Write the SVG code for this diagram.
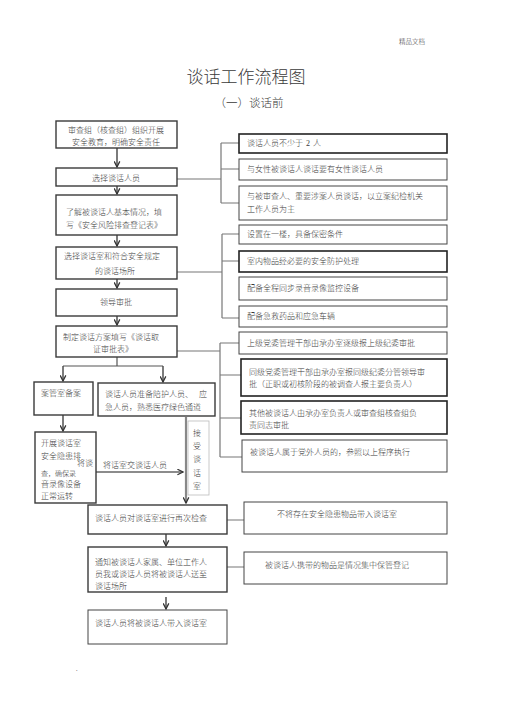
<svg xmlns="http://www.w3.org/2000/svg" width="505" height="714" viewBox="0 0 505 714">
<style>
text{font-family:"Liberation Serif","Noto Sans CJK SC",serif;fill:#3a3a3a;font-size:8px;font-weight:300}
.box{fill:#fff;stroke:#3a3a3a;stroke-width:1.4}
.rbox{fill:#fff;stroke:#444;stroke-width:1}
.rbox2{fill:#fff;stroke:#222;stroke-width:1.6}
.c{fill:none;stroke:#777;stroke-width:1.2}
.a{fill:none;stroke:#444;stroke-width:1.4;marker-end:url(#ah)}
.m{text-anchor:middle}
</style>
<defs>
<marker id="ah" viewBox="0 0 10 10" refX="9" refY="5" markerWidth="7" markerHeight="7" markerUnits="userSpaceOnUse" orient="auto">
<path d="M1,1 L9,5 L1,9" fill="none" stroke="#333" stroke-width="1.8"/>
</marker>
</defs>
<rect width="505" height="714" fill="#fff"/>
<text x="399" y="44" style="font-size:6.5px">精品文档</text>
<text x="246" y="83" class="m" style="font-size:17px">谈话工作流程图</text>
<text x="249" y="107" class="m" style="font-size:11.5px">（一）谈话前</text>

<g id="connectors">
<path class="a" d="M117,148 V167"/>
<path class="a" d="M117,186 V194"/>
<path class="a" d="M117,235 V246"/>
<path class="a" d="M117,279 V288"/>
<path class="a" d="M117,316 V325"/>
<path class="c" d="M117,357 V366 M63,366 H163" style="stroke:#555"/>
<path class="a" d="M63,366 V381"/>
<path class="a" d="M163,366 V382"/>
<path class="a" d="M63,415 V431"/>
<path class="a" d="M96,472 H183" style="stroke:#666"/>
<path class="a" d="M186,417 V503" style="stroke:#888;stroke-width:2.2"/>
<path class="a" d="M166,534 V546"/>
<path class="a" d="M166,597 V609"/>
<path class="c" d="M177,179 H221 M221,143 V203 M221,143 H239 M221,169 H239 M221,203 H239"/>
<path class="c" d="M177,272 H222 M222,234 V318 M222,234 H239 M222,261 H239 M222,318 H239"/>
<path class="c" d="M177,351 H220 M220,343 V457 M220,343 H239 M220,375 H241 M220,418 H241 M220,457 H242"/>
<path class="c" d="M227,520 H244 M227,567 H244"/>
</g>

<g id="n1"><rect class="box" x="56" y="121" width="121" height="27"/>
<text x="116" y="133" class="m">审查组（核查组）组织开展</text>
<text x="116" y="145" class="m">安全教育，明确安全责任</text></g>
<g id="n2"><rect class="box" x="56" y="168" width="121" height="18"/>
<text x="116" y="181" class="m">选择谈话人员</text></g>
<g id="n3"><rect class="box" x="56" y="195" width="121" height="40"/>
<text x="66" y="215">了解被谈话人基本情况，填</text>
<text x="66" y="228">写《安全风险排查登记表》</text></g>
<g id="n4"><rect class="box" x="56" y="247" width="121" height="32"/>
<text x="64" y="259">选择谈话室和符合安全规定</text>
<text x="95" y="274">的谈话场所</text></g>
<g id="n5"><rect class="box" x="56" y="289" width="121" height="27"/>
<text x="116" y="305" class="m">领导审批</text></g>
<g id="n6"><rect class="box" x="56" y="326" width="121" height="31"/>
<text x="63" y="340">制定谈话方案填写《谈话取</text>
<text x="93" y="352">证审批表》</text></g>
<g id="n7"><rect class="box" x="34" y="382" width="59" height="33"/>
<text x="41" y="396">案管室备案</text></g>
<g id="n8"><rect class="box" x="98" y="383" width="117" height="33"/>
<text x="105" y="397">谈话人员准备陪护人员、<tspan x="199">应</tspan></text>
<text x="105" y="410">急人员，熟悉医疗绿色通道</text></g>
<g id="n9"><rect class="box" x="35" y="432" width="61" height="71"/>
<text x="41" y="446">开展谈话室</text>
<text x="41" y="459">安全隐患排</text>
<text x="77" y="466">将谈</text>
<text x="41" y="476" style="font-size:7px">查，确保录</text>
<text x="41" y="487">音录像设备</text>
<text x="41" y="499">正常运转</text></g>
<text x="103" y="468">将话室交谈话人员</text>
<g id="n10"><rect x="188" y="421" width="21" height="74" fill="none" stroke="#bbb" stroke-width="0.8"/>
<text x="197" y="436" class="m">接</text>
<text x="197" y="449" class="m">受</text>
<text x="197" y="462" class="m">谈</text>
<text x="197" y="476" class="m">话</text>
<text x="197" y="489" class="m">室</text></g>
<g id="n11"><rect class="box" x="88" y="505" width="139" height="29"/>
<text x="95" y="521">谈话人员对谈话室进行再次检查</text></g>
<g id="n12"><rect class="box" x="88" y="547" width="139" height="45"/>
<text x="95" y="565">通知被谈话人家属、单位工作人</text>
<text x="95" y="577">员我或谈话人员将被谈话人送至</text>
<text x="95" y="589">谈话场所</text></g>
<g id="n13"><rect class="rbox" x="88" y="610" width="139" height="34"/>
<text x="95" y="626">谈话人员将被谈话人带入谈话室</text></g>
<g id="n14"><rect class="rbox" x="244" y="502" width="203" height="32"/>
<text x="337" y="517" class="m">不将存在安全隐患物品带入谈话室</text></g>
<g id="n15"><rect class="rbox" x="244" y="552" width="203" height="32"/>
<text x="337" y="568" class="m">被谈话人携带的物品是情况集中保管登记</text></g>

<g id="r1"><rect class="rbox2" x="239" y="134" width="208" height="19"/>
<text x="247" y="146">谈话人员不少于<tspan x="306">2</tspan><tspan x="313">人</tspan></text></g>
<g id="r2"><rect class="rbox" x="239" y="159" width="208" height="21"/>
<text x="247" y="172">与女性被谈话人谈话要有女性谈话人员</text></g>
<g id="r3"><rect class="rbox" x="239" y="186" width="208" height="34"/>
<text x="247" y="199">与被审查人、重要涉案人员谈话，以立案纪检机关</text>
<text x="247" y="212">工作人员为主</text></g>
<g id="r4"><rect class="rbox" x="239" y="225" width="208" height="19"/>
<text x="247" y="237">设置在一楼，具备保密条件</text></g>
<g id="r5"><rect class="rbox2" x="239" y="251" width="208" height="21"/>
<text x="247" y="264">室内物品经必要的安全防护处理</text></g>
<g id="r6"><rect class="rbox" x="239" y="277" width="208" height="23"/>
<text x="247" y="291">配备全程同步录音录像监控设备</text></g>
<g id="r7"><rect class="rbox" x="239" y="306" width="208" height="21"/>
<text x="247" y="319">配备急救药品和应急车辆</text></g>
<g id="r8"><rect class="rbox" x="239" y="332" width="208" height="22"/>
<text x="247" y="346">上级党委管理干部由承办室逐级报上级纪委审批</text></g>
<g id="r9"><rect class="rbox2" x="241" y="359" width="206" height="37"/>
<text x="249" y="375">同级党委管理干部由承办室报同级纪委分管领导审</text>
<text x="249" y="387">批（正职或初核阶段的被调查人报主要负责人）</text></g>
<g id="r10"><rect class="rbox2" x="241" y="401" width="206" height="33"/>
<text x="249" y="416">其他被谈话人由承办室负责人或审查组核查组负</text>
<text x="249" y="428">责同志审批</text></g>
<g id="r11"><rect class="rbox" x="242" y="440" width="205" height="32"/>
<text x="250" y="455">被谈话人属于党外人员的，参照以上程序执行</text></g>
<text x="76" y="671" style="font-size:6px">.</text>
</svg>
